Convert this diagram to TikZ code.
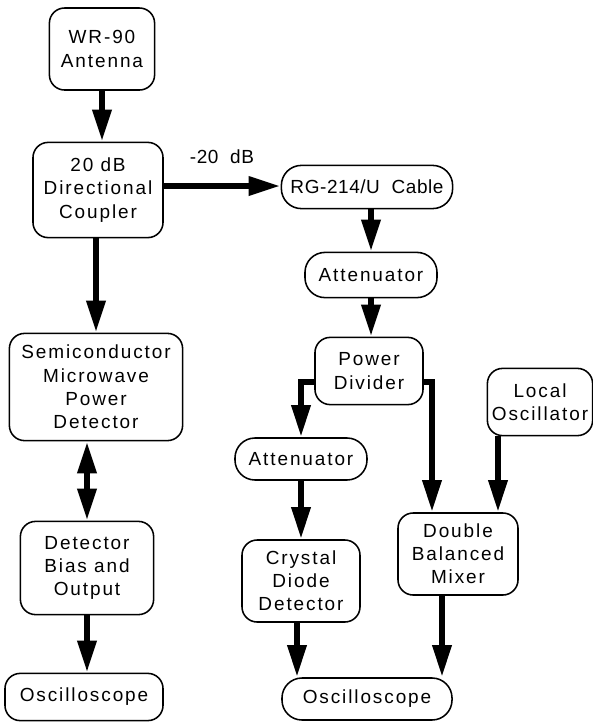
\documentclass[tikz,border=0pt]{standalone}
\usepackage{fontspec}
\setmainfont{Liberation Sans}[LetterSpace=10]
\newfontfamily\tightfont{Liberation Sans}[LetterSpace=3]
\usetikzlibrary{arrows.meta}

\begin{document}
\begin{tikzpicture}[x=0.025cm,y=-0.025cm,
		box/.style={draw,line width=1.1pt,rounded corners=0.38cm,align=center,inner sep=0pt,font=\fontsize{13.5}{16.5}\selectfont},
		arr/.style={line width=4.5pt,-{Triangle[length=0.8cm,width=0.45cm]}},
		darr/.style={line width=4.5pt,{Triangle[length=0.8cm,width=0.45cm]}-{Triangle[length=0.8cm,width=0.45cm]}}]
			\useasboundingbox (0,0) rectangle (593,725);
			
			\node[box,minimum width=2.63cm,minimum height=2.05cm](ant)at(102,49) {WR-90\\Antenna};
			\node[box,minimum width=3.25cm,minimum height=2.38cm](cpl)at(98,190) {20 dB\\Directional\\Coupler};
			\node[box,minimum width=4.33cm,minimum height=2.68cm](semi)at(96,387) {Semiconductor\\Microwave\\Power\\Detector};
			\node[box,minimum width=3.33cm,minimum height=2.33cm](bias)at(87,568) {Detector\\Bias and\\Output};
			\node[box,minimum width=3.95cm,minimum height=1.18cm](oscl)at(84,697) {Oscilloscope};
			
			\node[box,minimum width=4.28cm,minimum height=1.08cm,rounded corners=0.5cm](rg)at(367,187) {\tightfont RG-214/U\ \ Cable};
			\node[box,minimum width=3.3cm,minimum height=1.13cm,rounded corners=0.5cm](att)at(371,275) {Attenuator};
			\node[box,minimum width=2.7cm,minimum height=1.68cm](pd)at(369,371) {Power\\Divider};
			\node[box,minimum width=2.63cm,minimum height=1.68cm](lo)at(540,402) {Local\\Oscillator};
			\node[box,minimum width=3.3cm,minimum height=1.05cm,rounded corners=0.5cm](attl)at(301,459) {Attenuator};
			\node[box,minimum width=2.95cm,minimum height=2.05cm](cry)at(301,581) {Crystal\\Diode\\Detector};
			\node[box,minimum width=3cm,minimum height=2.05cm](mix)at(458,554) {Double\\Balanced\\Mixer};
			\node[box,minimum width=4.25cm,minimum height=1.05cm,rounded corners=0.5cm](oscr)at(367,699) {Oscilloscope};
			
			\node[font=\fontsize{13.5}{16}\tightfont](db)at(222,157) {-20\ \ dB};
			
			\draw[arr](ant) -- (ant |- cpl.north);
			\draw[arr](cpl.south -| semi) -- (semi.north);
			\draw[darr](semi.south -| bias) -- (bias.north);
			\draw[arr](bias.south) -- (bias.south |- oscl.north);
			\draw[arr]([yshift=0.1cm]cpl.east) -- ([yshift=0.1cm]cpl.east -| rg.west);
			\draw[arr](rg.south -| att) -- (att.north);
			\draw[arr](att.south) -- (att.south |- pd.north);
			\draw[arr]([yshift=-0.27cm]pd.west) -| (attl.north);
			\draw[arr]([yshift=-0.27cm]pd.east) -| ([xshift=-0.65cm]mix.north);
			\draw[arr]([xshift=-1.05cm]lo.south) -- ([xshift=-1.05cm]lo.south |- mix.north);
			\draw[arr](attl.south) -- (attl.south |- cry.north);
			\draw[arr]([xshift=-0.1cm]cry.south) -- ([xshift=-0.1cm]cry.south |- oscr.north);
			\draw[arr]([xshift=-0.4cm]mix.south) -- ([xshift=-0.4cm]mix.south |- oscr.north);
		\end{tikzpicture}
\end{document}
